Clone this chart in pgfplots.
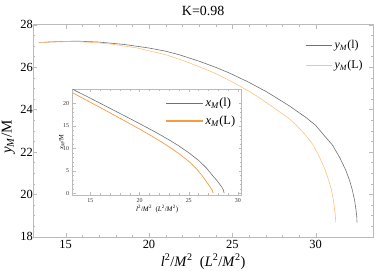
\documentclass[border=0pt]{standalone}
\usepackage{fontspec}
\setmainfont{Liberation Serif}
\usepackage{pgfplots}
\pgfplotsset{compat=1.18}
\definecolor{fr}{HTML}{BBBBBB}
\definecolor{cblk}{HTML}{707070}
\definecolor{corgL}{HTML}{FFC27F}
\definecolor{corgI}{HTML}{F99A40}
\begin{document}
\begin{tikzpicture}
\begin{axis}[name=main, scale only axis, width=339.7bp, height=212bp,
  xmin=13.06, xmax=33.44, ymin=18, ymax=28,
  xtick={15,20,25,30}, ytick={18,20,...,28}, minor x tick num=4, minor y tick num=3,
  tick align=inside, axis line style={fr}, tick style={fr},
  major tick length=4bp, minor tick length=2bp,
  ticklabel style={font=\fontsize{12.5}{12.5}\selectfont, text=black},
  yticklabel style={xshift=3bp},
  /pgf/number format/assume math mode=true,
  title={K=0.98}, title style={font=\fontsize{14}{14}\selectfont, at={(0.5,1)}, anchor=base, yshift=3bp},
  xlabel={\textit{l}\textsuperscript{2}/\textit{M}\textsuperscript{2}\ \ (\textit{L}\textsuperscript{2}/\textit{M}\textsuperscript{2})},
  xlabel style={font=\fontsize{14.5}{14.5}\selectfont, at={(0.5,0)}, anchor=base, yshift=-29.5bp},
  ylabel={\textit{y}\textsubscript{\textit{M}}/M},
  ylabel style={font=\fontsize{15}{15}\selectfont, at={(0,0.47)}, anchor=center, yshift=25bp},
  legend cell align=left,
  legend style={draw=none, fill=none, at={(0.80,0.935)}, anchor=north west, row sep=6bp,
    font=\fontsize{12}{12}\selectfont, inner sep=0pt},
  legend image code/.code={\draw[#1] (0bp,0bp) -- (26.7bp,0bp);},
]
\addplot[cblk, line width=0.6bp] coordinates {
(13.4,27.15) (14.0,27.185) (15.0,27.215) (15.8,27.22) (17.0,27.18) (18.5,27.07) (20.0,26.90) (21.0,26.75) (21.87,26.57) (23.0,26.28) (24.0,25.99) (24.86,25.71) (26.0,25.28) (27.0,24.86) (27.44,24.65) (28.44,24.16) (29.44,23.61) (30.0,23.25) (30.44,22.84) (31.0,22.33) (31.44,21.74) (31.8,21.15) (32.04,20.64) (32.2,20.2) (32.34,19.7) (32.43,19.2) (32.47,18.9) (32.48,18.68)};
\addlegendentry{\textit{y}\textsubscript{\textit{M}}(l)}
\addplot[corgL, line width=0.6bp] coordinates {
(13.4,27.15) (14.0,27.18) (15.0,27.20) (15.8,27.20) (17.0,27.14) (17.9,27.07) (19.3,26.9) (21.07,26.57) (22.15,26.28) (23.1,25.99) (23.96,25.71) (25.05,25.28) (26.0,24.86) (26.44,24.65) (27.34,24.16) (28.34,23.61) (28.85,23.25) (29.34,22.84) (29.85,22.33) (30.24,21.74) (30.57,21.15) (30.79,20.64) (30.95,20.2) (31.07,19.7) (31.15,19.2) (31.19,18.9) (31.2,18.68)};
\addlegendentry{\textit{y}\textsubscript{\textit{M}}(L)}
\coordinate (insetsw) at (axis cs:15.42,19.97);
\end{axis}
\begin{axis}[at={(insetsw)}, anchor=south west, scale only axis, width=169bp, height=105.7bp,
  xmin=13.19, xmax=30.38, ymin=-0.38, ymax=23.1,
  xtick={15,20,25,30}, ytick={0,5,...,20}, minor x tick num=4, minor y tick num=4,
  tick align=inside, axis line style={fr}, tick style={fr},
  major tick length=3bp, minor tick length=1.5bp,
  ticklabel style={font=\fontsize{6}{6}\selectfont, text=black!80},
  /pgf/number format/assume math mode=true,
  xlabel={\textit{l}\textsuperscript{2}/\textit{M}\textsuperscript{2}\ \ (\textit{L}\textsuperscript{2}/\textit{M}\textsuperscript{2})},
  xlabel style={font=\fontsize{7}{7}\selectfont, at={(0.5,0)}, anchor=base, yshift=-17bp},
  ylabel={\textit{x}\textsubscript{\textit{M}}/M},
  ylabel style={font=\fontsize{6.5}{6.5}\selectfont, at={(0,0.5)}, anchor=center, yshift=11bp},
  legend cell align=left,
  legend style={draw=none, fill=none, at={(0.55,0.94)}, anchor=north west, row sep=4bp,
    font=\fontsize{12.5}{12.5}\selectfont, inner sep=0pt},
  legend image code/.code={\draw[#1] (0bp,0bp) -- (36.7bp,0bp);},
]
\addplot[cblk, line width=0.6bp] coordinates {
(13.19,23.1) (15,21.1) (17,18.85) (19,16.6) (20,15.45) (21,14.3) (22,13.1) (23,11.85) (24,10.5) (25,9.0) (26,7.3) (26.8,5.6) (27.4,4.0) (27.95,2.6) (28.35,1.4) (28.52,0.7) (28.6,0)};
\addlegendentry{\textit{x}\textsubscript{\textit{M}}(l)}
\addplot[corgI, line width=0.7bp, forget plot] coordinates {
(13.19,22.3) (15,20.2) (17,17.85) (19,15.45) (20,14.25) (21,13.0) (22,11.7) (23,10.3) (24,8.8) (25,7.1) (25.8,5.4) (26.4,3.8) (26.85,2.4) (27.2,1.3) (27.4,0.6) (27.48,0)};
\addlegendimage{corgI, line width=1.1bp}
\addlegendentry{\textit{x}\textsubscript{\textit{M}}(L)}
\end{axis}
\pgfresetboundingbox
\path[use as bounding box] ([xshift=-33.3bp,yshift=-34.3bp]main.south west) rectangle ([xshift=1bp,yshift=24.7bp]main.north east);
\end{tikzpicture}
\end{document}
